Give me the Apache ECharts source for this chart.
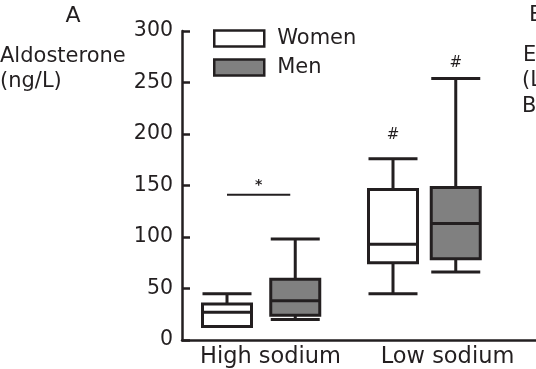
<!DOCTYPE html>
<html>
<head>
<meta charset="utf-8">
<script src="https://cdn.jsdelivr.net/npm/echarts@6/dist/echarts.min.js"></script>
<style>
html,body{margin:0;padding:0;background:#fff;}
#c{width:536px;height:369px;}
</style>
</head>
<body>
<div id="c"></div>
<script>
// ---- data ----
var categories = ['High sodium', 'Low sodium'];
var seriesNames = ['Women', 'Men'];
// [min, Q1, median, Q3, max] in ng/L
var womenBoxes = [[13, 13, 27, 35, 45], [45, 75, 93, 146, 176]];
var menBoxes = [[20, 24, 38, 59, 98], [66, 79, 113, 148, 254]];
var yTicks = [0, 50, 100, 150, 200, 250, 300];
var starLevel = 141;          // significance bar (High sodium, women vs men)
var hashLevels = [199, 269];  // '#' marks above Low sodium women / men

var ink = '#231f20';
var font = '"DejaVu Sans", sans-serif';

var chart = echarts.init(document.getElementById('c'), null, {renderer: 'canvas'});

function hiddenAxisPair(i) {
  return {
    x: {type: 'category', gridIndex: i, data: categories, show: false},
    y: {type: 'value', gridIndex: i, min: yTicks[0], max: yTicks[yTicks.length - 1], show: false}
  };
}
var a1 = hiddenAxisPair(1), a2 = hiddenAxisPair(2);

var option = {
  animation: false,
  backgroundColor: '#fff',
  textStyle: {fontFamily: font},
  grid: [
    {left: 182, right: 0, top: 31, bottom: 29},
    {left: 144, width: 332, top: 31, bottom: 29},
    {left: 215, width: 332, top: 31, bottom: 29}
  ],
  legend: {
    orient: 'vertical', left: 213, top: 28, itemGap: 8,
    itemWidth: 50, itemHeight: 16, icon: 'rect', padding: 0,
    textStyle: {fontSize: 21, lineHeight: 16, color: ink, fontFamily: font, padding: [0, 0, 0, 8]},
    data: [
      {name: seriesNames[0], itemStyle: {color: '#ffffff', borderColor: ink, borderWidth: 2.5}},
      {name: seriesNames[1], itemStyle: {color: '#808080', borderColor: ink, borderWidth: 2.5}}
    ]
  },
  xAxis: [
    {type: 'category', gridIndex: 0, data: categories,
     axisLine: {lineStyle: {color: ink, width: 2.5}},
     axisTick: {show: false},
     axisLabel: {fontSize: 22.5, color: ink, margin: 6, fontFamily: font,
                 interval: 0, hideOverlap: false, showMinLabel: true, showMaxLabel: true},
     splitLine: {show: false}},
    a1.x, a2.x
  ],
  yAxis: [
    {type: 'value', gridIndex: 0, min: yTicks[0], max: yTicks[yTicks.length - 1], interval: 50,
     axisLine: {show: true, lineStyle: {color: ink, width: 2.5}},
     axisTick: {show: true, inside: true, length: 8, lineStyle: {color: ink, width: 2.5}},
     axisLabel: {fontSize: 20.5, color: ink, margin: 9, fontFamily: font},
     splitLine: {show: false}},
    a1.y, a2.y
  ],
  series: [
    {name: seriesNames[0], type: 'boxplot', xAxisIndex: 1, yAxisIndex: 1,
     boxWidth: [49, 49], data: womenBoxes,
     itemStyle: {color: '#ffffff', borderColor: ink, borderWidth: 3},
     markPoint: {symbol: 'circle', symbolSize: 1, itemStyle: {color: 'rgba(0,0,0,0)'},
       label: {show: true, formatter: '#', position: 'inside', color: ink, fontSize: 15, fontFamily: font},
       data: [{coord: [1, hashLevels[0]]}]}},
    {name: seriesNames[1], type: 'boxplot', xAxisIndex: 2, yAxisIndex: 2,
     boxWidth: [49, 49], data: menBoxes,
     itemStyle: {color: '#808080', borderColor: ink, borderWidth: 3},
     markPoint: {symbol: 'circle', symbolSize: 1, itemStyle: {color: 'rgba(0,0,0,0)'},
       label: {show: true, formatter: '#', position: 'inside', color: ink, fontSize: 15, fontFamily: font},
       data: [{coord: [1, hashLevels[1]]}]}}
  ]
};
chart.setOption(option);

// annotations derived from the axes
var pW = chart.convertToPixel({xAxisIndex: 1, yAxisIndex: 1}, [0, starLevel]);
var pM = chart.convertToPixel({xAxisIndex: 2, yAxisIndex: 2}, [0, starLevel]);
var x1 = pW[0], x2 = pM[0] - 5, yS = pW[1];

chart.setOption({
  graphic: [
    {type: 'line', shape: {x1: x1, y1: yS, x2: x2, y2: yS}, style: {stroke: ink, lineWidth: 2}},
    {type: 'text', x: (x1 + x2) / 2, y: yS - 9, style: {text: '*', font: 'bold 14px ' + font, fill: ink, textAlign: 'center', textVerticalAlign: 'middle'}},
    {type: 'text', x: 73, y: 16, style: {text: 'A', font: '22px ' + font, fill: ink, textAlign: 'center', textVerticalAlign: 'middle'}},
    {type: 'text', x: 0, y: 57, style: {text: 'Aldosterone', font: '21px ' + font, fill: ink, textVerticalAlign: 'middle'}},
    {type: 'text', x: 0, y: 82, style: {text: '(ng/L)', font: '21px ' + font, fill: ink, textVerticalAlign: 'middle'}},
    {type: 'text', x: 529, y: 15, style: {text: 'B', font: '22px ' + font, fill: ink, textVerticalAlign: 'middle'}},
    {type: 'text', x: 523, y: 56, style: {text: 'E', font: '21px ' + font, fill: ink, textVerticalAlign: 'middle'}},
    {type: 'text', x: 522, y: 81, style: {text: '(L', font: '21px ' + font, fill: ink, textVerticalAlign: 'middle'}},
    {type: 'text', x: 522, y: 107, style: {text: 'B', font: '21px ' + font, fill: ink, textVerticalAlign: 'middle'}}
  ]
});
</script>
</body>
</html>
